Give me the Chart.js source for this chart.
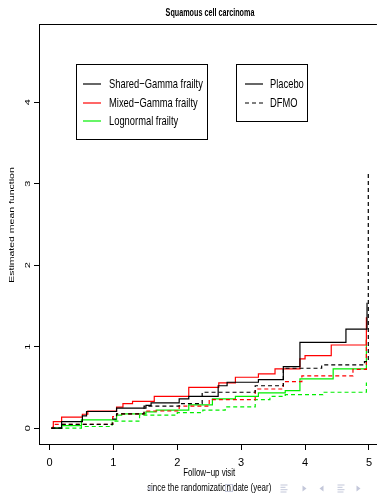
<!DOCTYPE html>
<html>
<head>
<meta charset="utf-8">
<script src="https://cdn.jsdelivr.net/npm/chart.js@4.4.1/dist/chart.umd.min.js"></script>
<style>
  html, body { margin: 0; padding: 0; background: #fff; }
  #wrap { width: 378px; height: 493px; }
</style>
</head>
<body>
<div id="wrap"><canvas id="c" width="378" height="493"></canvas></div>
<script>
// Estimated mean functions (step functions) by frailty model and treatment arm.
// Each series: jump times (years) and the value reached at each jump.

const xTicks = [0, 1, 2, 3, 4, 5];
const yTicks = [0, 1, 2, 3, 4];

// Shared-Gamma frailty
const timeSharedPlacebo = [0.03, 0.19, 0.515, 0.58, 1.05, 1.51, 1.59, 2.03, 2.18, 2.64, 2.78, 3.27, 3.66, 3.92, 4.64, 4.97];
const meanSharedPlacebo = [0, 0.08, 0.15, 0.204, 0.245, 0.278, 0.31, 0.36, 0.39, 0.52, 0.563, 0.596, 0.755, 1.053, 1.216, 1.54];
const timeSharedDFMO = [0.03, 0.19, 0.99, 1.05, 1.48, 2.03, 2.39, 3.22, 3.66, 4.26, 4.93, 4.99];
const meanSharedDFMO = [0, 0.045, 0.11, 0.175, 0.27, 0.3, 0.44, 0.52, 0.735, 0.775, 0.816, 3.13];

// Mixed-Gamma frailty
const timeMixedPlacebo = [0.03, 0.06, 0.19, 0.515, 0.6, 1.05, 1.15, 1.30, 1.64, 2.18, 2.65, 2.91, 3.27, 3.53, 3.92, 4.0, 4.41, 4.96];
const meanMixedPlacebo = [0, 0.08, 0.135, 0.17, 0.208, 0.257, 0.3, 0.327, 0.39, 0.5, 0.555, 0.624, 0.665, 0.727, 0.85, 0.89, 1.02, 1.36];
const timeMixedDFMO = [0.03, 0.06, 0.99, 1.05, 1.48, 2.03, 2.5, 3.22, 3.66, 3.95, 4.75, 4.96];
const meanMixedDFMO = [0, 0.045, 0.14, 0.175, 0.21, 0.27, 0.35, 0.48, 0.57, 0.64, 0.72, 1.1];

// Lognormal frailty
const timeLognPlacebo = [0.03, 0.19, 0.5, 1.05, 1.13, 1.51, 1.67, 2.18, 2.55, 2.91, 3.27, 3.69, 3.92, 4.44, 4.96];
const meanLognPlacebo = [0, 0.03, 0.1, 0.16, 0.175, 0.2, 0.22, 0.285, 0.36, 0.39, 0.433, 0.46, 0.604, 0.727, 1.09];
const timeLognDFMO = [0.03, 0.5, 0.98, 1.41, 2.0, 2.4, 2.75, 3.22, 3.45, 3.69, 4.28, 4.96];
const meanLognDFMO = [0, 0.02, 0.085, 0.16, 0.19, 0.22, 0.26, 0.35, 0.39, 0.41, 0.44, 0.56];

const modelLabels = ['Shared\u2212Gamma frailty', 'Mixed\u2212Gamma frailty', 'Lognormal frailty'];
const armLabels = ['Placebo', 'DFMO'];

const FONT = '"Liberation Sans", Arial, Helvetica, sans-serif';
const SQUEEZE = 0.72;   // horizontal text compression

function pts(t, v) { return t.map((x, i) => ({ x: x, y: v[i] })); }

function series(label, t, v, color, dashed) {
  return {
    label: label,
    data: pts(t, v),
    borderColor: color,
    borderWidth: 1.2,
    borderDash: dashed ? [4, 3] : [],
    stepped: true,
    pointRadius: 0,
    fill: false
  };
}

const datasets = [
  series('Shared Placebo', timeSharedPlacebo, meanSharedPlacebo, '#000000', false),
  series('Shared DFMO', timeSharedDFMO, meanSharedDFMO, '#000000', true),
  series('Mixed Placebo', timeMixedPlacebo, meanMixedPlacebo, '#ff0000', false),
  series('Mixed DFMO', timeMixedDFMO, meanMixedDFMO, '#ff0000', true),
  series('Lognormal Placebo', timeLognPlacebo, meanLognPlacebo, '#00ee00', false),
  series('Lognormal DFMO', timeLognDFMO, meanLognDFMO, '#00ee00', true)
];

function squeezedText(ctx, text, x, y, font, align) {
  ctx.save();
  ctx.translate(x, y);
  ctx.scale(SQUEEZE, 1);
  ctx.font = font;
  ctx.textAlign = align || 'left';
  ctx.textBaseline = 'middle';
  ctx.fillStyle = '#000';
  ctx.fillText(text, 0, 0);
  ctx.restore();
}

function verticalText(ctx, text, x, y, font) {
  ctx.save();
  ctx.translate(x, y);
  ctx.rotate(-Math.PI / 2);
  ctx.scale(1, SQUEEZE);
  ctx.font = font;
  ctx.textAlign = 'center';
  ctx.textBaseline = 'middle';
  ctx.fillStyle = '#000';
  ctx.fillText(text, 0, 0);
  ctx.restore();
}

const decorations = {
  id: 'decorations',
  afterDraw(chart) {
    const ctx = chart.ctx;
    const area = chart.chartArea;
    const ys = chart.scales.y;
    const xs = chart.scales.x;

    // top edge of the plot box
    ctx.save();
    ctx.strokeStyle = '#000';
    ctx.lineWidth = 1;
    ctx.beginPath();
    ctx.moveTo(area.left, Math.round(area.top) + 0.5);
    ctx.lineTo(area.right, Math.round(area.top) + 0.5);
    ctx.stroke();
    ctx.restore();

    // title
    squeezedText(ctx, 'Squamous cell carcinoma', (area.left + 381) / 2, 13, 'bold 10px ' + FONT, 'center');

    // y tick labels, written parallel to the axis
    yTicks.forEach(v => verticalText(ctx, String(v), 28, ys.getPixelForValue(v), '11px ' + FONT));

    // axis titles
    verticalText(ctx, 'Estimated mean function', 12, 225, '10.5px ' + FONT);
    const xc = xs.getPixelForValue(2.5);
    squeezedText(ctx, 'Follow\u2212up visit', xc, 473, '11px ' + FONT, 'center');
    squeezedText(ctx, 'since the randomization date (year)', xc, 488, '11px ' + FONT, 'center');

    // legend: frailty models
    ctx.save();
    ctx.strokeStyle = '#000';
    ctx.lineWidth = 1;
    ctx.strokeRect(76.5, 64.5, 131, 75);
    ctx.strokeRect(236.5, 64.5, 71, 57);
    const modelColors = ['#000000', '#ff0000', '#00ee00'];
    const rows = [84, 103, 121];
    modelLabels.forEach((lab, i) => {
      ctx.strokeStyle = modelColors[i];
      ctx.lineWidth = 1.2;
      ctx.setLineDash([]);
      ctx.beginPath();
      ctx.moveTo(83, rows[i]);
      ctx.lineTo(101, rows[i]);
      ctx.stroke();
      squeezedText(ctx, lab, 109, rows[i], '13px ' + FONT, 'left');
    });
    // legend: treatment arms
    armLabels.forEach((lab, i) => {
      ctx.strokeStyle = '#000';
      ctx.lineWidth = 1.2;
      ctx.setLineDash(i === 1 ? [4, 3] : []);
      ctx.beginPath();
      ctx.moveTo(245, rows[i]);
      ctx.lineTo(263, rows[i]);
      ctx.stroke();
      ctx.setLineDash([]);
      squeezedText(ctx, lab, 270, rows[i], '13px ' + FONT, 'left');
    });
    ctx.restore();

    // slide navigation symbols along the bottom
    ctx.save();
    ctx.fillStyle = '#c3c7da';
    ctx.strokeStyle = '#c3c7da';
    ctx.lineWidth = 1;
    const yc = 488.5;
    const triL = x => { ctx.beginPath(); ctx.moveTo(x - 2.5, yc); ctx.lineTo(x + 1.5, yc - 3); ctx.lineTo(x + 1.5, yc + 3); ctx.closePath(); ctx.fill(); };
    const triR = x => { ctx.beginPath(); ctx.moveTo(x + 2.5, yc); ctx.lineTo(x - 1.5, yc - 3); ctx.lineTo(x - 1.5, yc + 3); ctx.closePath(); ctx.fill(); };
    const menu = x => { [[-3.5, 7], [-1.2, 5], [1.2, 7], [3.5, 6]].forEach(r => ctx.fillRect(x - 3.5, yc + r[0] - 0.5, r[1], 1)); };
    triL(150);
    ctx.strokeRect(225.5, 484.5, 7, 7);
    menu(284);
    triR(304);
    triL(322);
    menu(341);
    triR(358);
    ctx.restore();
  }
};

new Chart(document.getElementById('c'), {
  type: 'line',
  data: { datasets: datasets },
  options: {
    responsive: false,
    animation: false,
    devicePixelRatio: 1,
    layout: { padding: { top: 24, right: 0, left: 0, bottom: 0 } },
    plugins: { legend: { display: false }, title: { display: false }, tooltip: { enabled: false } },
    scales: {
      x: {
        type: 'linear',
        min: -0.164,
        max: 5.125,
        afterFit(s) { s.height = 49; },
        afterBuildTicks(s) { s.ticks = xTicks.map(v => ({ value: v })); },
        ticks: { color: '#000', font: { size: 11, family: FONT }, padding: 6, maxRotation: 0, autoSkip: false, callback: v => String(v) },
        grid: { drawOnChartArea: false, drawTicks: true, tickLength: 6, color: '#000', lineWidth: 1 },
        border: { display: true, color: '#000', width: 1 }
      },
      y: {
        type: 'linear',
        min: -0.195,
        max: 4.96,
        afterFit(s) { s.width = 39; },
        afterBuildTicks(s) { s.ticks = yTicks.map(v => ({ value: v })); },
        ticks: { display: false },
        grid: { drawOnChartArea: false, drawTicks: true, tickLength: 5, color: '#000', lineWidth: 1 },
        border: { display: true, color: '#000', width: 1 }
      }
    }
  },
  plugins: [decorations]
});
</script>
</body>
</html>
